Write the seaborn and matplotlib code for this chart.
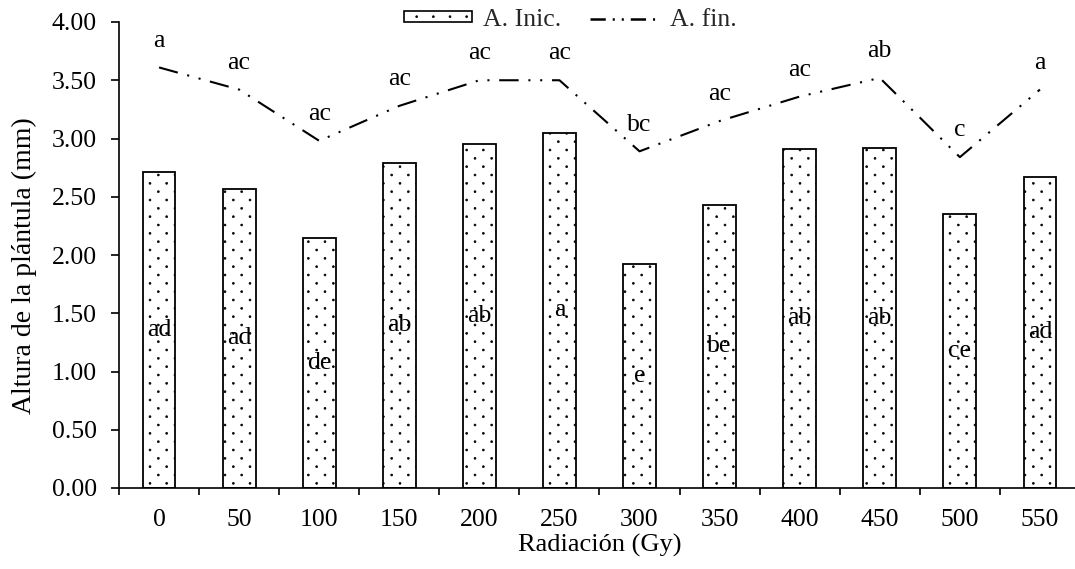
import matplotlib
matplotlib.use("Agg")
import matplotlib.pyplot as plt
import matplotlib.hatch as mhatch
from matplotlib.path import Path
import seaborn as sns
import pandas as pd
import numpy as np
from matplotlib.patches import Patch
from matplotlib.lines import Line2D

# data
dosis = ["0", "50", "100", "150", "200", "250", "300", "350", "400", "450", "500", "550"]
altura_inicial = [2.71, 2.57, 2.15, 2.79, 2.95, 3.05, 1.92, 2.43, 2.91, 2.92, 2.35, 2.67]
altura_final = [3.61, 3.42, 2.98, 3.28, 3.50, 3.50, 2.89, 3.15, 3.36, 3.52, 2.84, 3.42]
letras_inicial = ["ad", "ad", "de", "ab", "ab", "a", "e", "be", "ab", "ab", "ce", "ad"]
letras_final = ["a", "ac", "ac", "ac", "ac", "ac", "bc", "ac", "ac", "ab", "c", "a"]


class PuntosFinos(mhatch.HatchPatternBase):
    """Staggered dot pattern: sparse across, dense down (like the Excel '5%' fill)."""
    radio = 0.0095

    def __init__(self, hatch, density):
        self.n = hatch.count(".") * density
        self.filas = 2 * self.n
        circ = Path.unit_circle()
        self.shape_vertices = circ.vertices * self.radio
        self.shape_codes = circ.codes
        if self.n == 0:
            self.num_vertices = 0
        else:
            pares = self.filas // 2 + 1
            impares = self.filas // 2
            num_shapes = pares * (self.n + 1) + impares * self.n
            self.num_vertices = num_shapes * len(self.shape_vertices)

    def set_vertices_and_codes(self, vertices, codes):
        nv = len(self.shape_vertices)
        k = 0
        for fila in range(self.filas + 1):
            if fila % 2 == 0:
                cols = np.linspace(0, 1, self.n + 1)
            else:
                cols = np.linspace(0.5 / self.n, 1 - 0.5 / self.n, self.n)
            y = fila / self.filas
            for x in cols:
                vertices[k:k + nv] = self.shape_vertices + (x, y)
                codes[k:k + nv] = self.shape_codes
                k += nv


mhatch._hatch_types[:] = [PuntosFinos if t is mhatch.SmallFilledCircles else t
                          for t in mhatch._hatch_types]

df = pd.DataFrame({
    "dosis": dosis,
    "inicial": altura_inicial,
    "final": altura_final,
    "pos": np.arange(len(dosis)),
})

sns.set_theme(style="white")
plt.rcParams["font.family"] = ["Liberation Serif", "DejaVu Serif"]
plt.rcParams["hatch.linewidth"] = 0.5
plt.rcParams["lines.scale_dashes"] = False
FS = 18.5

fig = plt.figure(figsize=(10.75, 5.69), dpi=100)
ax = fig.add_axes([119 / 1075, 1 - 488 / 569, 961 / 1075, 466 / 569])

sns.barplot(data=df, x="dosis", y="inicial", color="white", edgecolor="black",
            linewidth=1.3, hatch=".", width=0.41, ax=ax)
for p in ax.patches:
    p.set_facecolor("white")
    p.set_edgecolor("black")

estilo = (0, (14, 7, 1.5, 7, 1.5, 7))
sns.lineplot(data=df, x="pos", y="final", color="black", linewidth=1.5,
             linestyle=estilo, ax=ax)

for i in range(len(dosis)):
    ax.text(i, altura_inicial[i] / 2, letras_inicial[i], ha="center", va="center",
            fontsize=FS, color="black")
    ax.text(i, altura_final[i] + 0.23, letras_final[i], ha="center", va="center",
            fontsize=FS, color="black")

ax.set_ylim(0, 4.0)
ax.set_xlim(-0.5, 11.5)
ax.set_yticks(np.arange(0, 4.01, 0.5))
ax.set_yticklabels([f"{v:.2f}" for v in np.arange(0, 4.01, 0.5)], fontsize=FS)
ax.set_xticks(np.arange(len(dosis)))
ax.set_xticklabels(dosis, fontsize=FS)
ax.set_xticks(np.arange(len(dosis) + 1) - 0.5, minor=True)
ax.tick_params(axis="x", which="major", length=0, pad=15, colors="black")
ax.tick_params(axis="x", which="minor", length=5, width=1.2, direction="out",
               color="black", bottom=True)
ax.tick_params(axis="y", length=6, width=1.2, direction="out", pad=10,
               colors="black", left=True)

for s in ["top", "right"]:
    ax.spines[s].set_visible(False)
for s in ["left", "bottom"]:
    ax.spines[s].set_color("black")
    ax.spines[s].set_linewidth(1.2)

ax.set_xlabel("Radiación (Gy)", fontsize=19, color="black", labelpad=2)
ax.set_ylabel("Altura de la plántula (mm)", fontsize=20, color="black")
ax.yaxis.set_label_coords(-0.085, 0.478)
ax.grid(False)

handles = [
    Patch(facecolor="white", edgecolor="black", hatch=".", linewidth=1.2),
    Line2D([0], [0], color="black", linewidth=1.8, linestyle=(0, (11, 5, 1.5, 5, 1.5, 5))),
]
fig.legend(handles, ["A. Inic.", "A. fin."], loc="center", ncol=2,
           bbox_to_anchor=(570 / 1075, 1 - 20 / 569), frameon=False, fontsize=FS,
           handlelength=2.65, handleheight=0.25, handletextpad=0.45, columnspacing=1.1,
           borderpad=0.1)

fig.savefig("out.png", dpi=100)
